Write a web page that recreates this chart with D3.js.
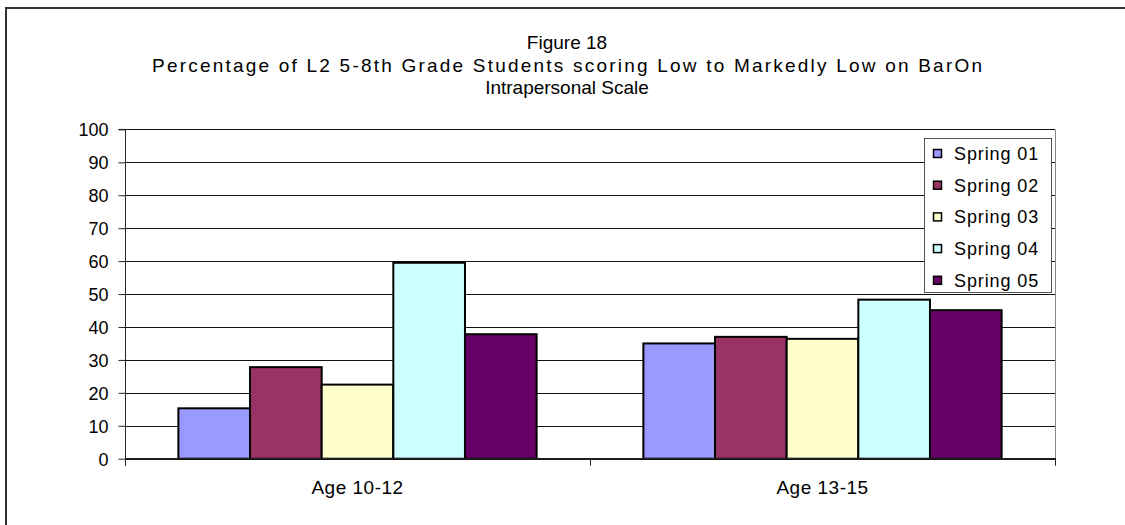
<!DOCTYPE html>
<html lang="en">
<head>
    <meta charset="UTF-8">
    <title>Figure 18 - BarOn Intrapersonal Scale</title>
    <script src="https://d3js.org/d3.v7.min.js"></script>
    <style>
        body { margin: 0; background: #fff; }
        text { font-family: "Liberation Sans", Arial, sans-serif; fill: #000; }
    </style>
</head>
<body>
    <svg width="1125" height="525"></svg>

    <script>
        // chart data
        const categories = ["Age 10-12", "Age 13-15"];
        const seriesNames = ["Spring 01", "Spring 02", "Spring 03", "Spring 04", "Spring 05"];
        const seriesColors = ["#9999ff", "#993366", "#ffffcc", "#ccffff", "#660066"];
        const spring01 = [15.3, 35.0];
        const spring02 = [27.8, 37.0];
        const spring03 = [22.5, 36.4];
        const spring04 = [59.5, 48.3];
        const spring05 = [37.8, 45.1];
        const yTicks = [0, 10, 20, 30, 40, 50, 60, 70, 80, 90, 100];
        const titleLines = [
            "Figure 18",
            "Percentage of L2 5-8th Grade Students scoring Low to Markedly Low on BarOn",
            "Intrapersonal Scale"
        ];

        const seriesValues = [spring01, spring02, spring03, spring04, spring05];

        const svg = d3.select("svg");

        // outer chart border (top and left only are visible)
        svg.append("path")
            .attr("d", "M6,525 V8 H1125")
            .attr("fill", "none")
            .attr("stroke", "#333")
            .attr("stroke-width", 2);

        // title
        const title = svg.append("g").selectAll("text")
            .data(titleLines)
            .enter().append("text")
            .attr("x", 567)
            .attr("y", (d, i) => 49 + i * 22.5)
            .attr("text-anchor", "middle")
            .attr("font-size", "19px")
            .text(d => d);
        // the long line is spread wider in the original
        title.filter((d, i) => i === 1)
            .attr("textLength", 830)
            .attr("lengthAdjust", "spacing");

        const plot = { left: 125, right: 1055, top: 129.4, bottom: 458.7 };

        const x0 = d3.scaleBand()
            .domain(categories)
            .range([plot.left, plot.right]);

        const x1 = d3.scaleBand()
            .domain(seriesNames)
            .range([0, x0.bandwidth()])
            .paddingOuter(0.745)
            .paddingInner(0);

        const y = d3.scaleLinear()
            .domain([0, 100])
            .range([plot.bottom, plot.top]);

        // gridlines
        svg.append("g").selectAll("line")
            .data(yTicks)
            .enter().append("line")
            .attr("x1", plot.left)
            .attr("x2", plot.right)
            .attr("y1", d => Math.round(y(d)) + 0.5)
            .attr("y2", d => Math.round(y(d)) + 0.5)
            .attr("stroke", "#111")
            .attr("stroke-width", 1);

        // plot area right border
        svg.append("line")
            .attr("x1", plot.right + 0.5).attr("x2", plot.right + 0.5)
            .attr("y1", plot.top).attr("y2", plot.bottom)
            .attr("stroke", "#888");

        // y axis
        const yAxis = d3.axisLeft(y)
            .tickValues(yTicks)
            .tickSize(7)
            .tickPadding(10);
        const yG = svg.append("g")
            .attr("transform", `translate(${plot.left + 0.5},0)`)
            .call(yAxis);
        yG.select(".domain").attr("stroke", "#222").attr("d", `M-7,${plot.top}H0V${plot.bottom + 7}`);
        yG.selectAll(".tick line").attr("stroke", "#222");
        yG.selectAll(".tick text")
            .attr("font-size", "18px")
            .attr("font-family", "Liberation Sans, Arial, sans-serif")
            .attr("fill", "#000")
            .attr("dy", "0.35em");

        // bars
        const groups = svg.append("g").selectAll("g")
            .data(categories)
            .enter().append("g")
            .attr("transform", d => `translate(${x0(d)},0)`);

        groups.selectAll("rect")
            .data((c, ci) => seriesNames.map((s, si) => ({ s, si, v: seriesValues[si][ci] })))
            .enter().append("rect")
            .attr("x", d => x1(d.s))
            .attr("width", x1.bandwidth())
            .attr("y", d => y(d.v))
            .attr("height", d => y(0) - y(d.v))
            .attr("fill", d => seriesColors[d.si])
            .attr("stroke", "#000")
            .attr("stroke-width", 2);

        // x axis
        const xAxisLine = svg.append("g");
        xAxisLine.append("line")
            .attr("x1", plot.left).attr("x2", plot.right + 1)
            .attr("y1", plot.bottom).attr("y2", plot.bottom)
            .attr("stroke", "#222").attr("stroke-width", 1.5);
        xAxisLine.selectAll(".ctick")
            .data([plot.left, plot.left + x0.bandwidth(), plot.right])
            .enter().append("line")
            .attr("x1", d => d + 0.5).attr("x2", d => d + 0.5)
            .attr("y1", plot.bottom).attr("y2", plot.bottom + 7)
            .attr("stroke", "#222");
        svg.append("g").selectAll("text")
            .data(categories)
            .enter().append("text")
            .attr("x", d => x0(d) + x0.bandwidth() / 2)
            .attr("y", 494)
            .attr("text-anchor", "middle")
            .attr("font-size", "19px")
            .attr("letter-spacing", "0.5px")
            .text(d => d);

        // legend
        const legend = svg.append("g").attr("transform", "translate(924.5,138.5)");
        legend.append("rect")
            .attr("width", 127).attr("height", 154)
            .attr("fill", "#fff")
            .attr("stroke", "#555");
        const items = legend.selectAll(".item")
            .data(seriesNames)
            .enter().append("g")
            .attr("transform", (d, i) => `translate(0,${15.5 + i * 31.7})`);
        items.append("rect")
            .attr("x", 9).attr("y", -4.5)
            .attr("width", 8).attr("height", 8)
            .attr("fill", (d, i) => seriesColors[i])
            .attr("stroke", "#000")
            .attr("stroke-width", 1.5);
        items.append("text")
            .attr("x", 29.5)
            .attr("y", 6)
            .attr("font-size", "18px")
            .attr("letter-spacing", "0.9px")
            .text(d => d);
    </script>
</body>
</html>
